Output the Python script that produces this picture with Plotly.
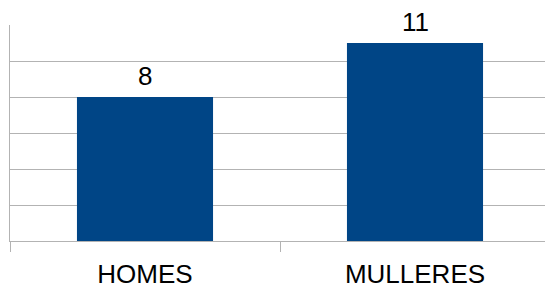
import plotly.graph_objects as go

categories = ["HOMES", "MULLERES"]
values = [8, 11]
bar_color = "#004586"
grid_color = "#b3b3b3"

fig = go.Figure(go.Bar(
    x=categories, y=values,
    marker=dict(color=bar_color, line=dict(width=0)),
    width=0.504, hoverinfo="skip",
))

for c, v in zip(categories, values):
    fig.add_annotation(
        x=c, y=v, text=str(v), showarrow=False,
        yanchor="bottom", yshift=4,
        font=dict(family="Liberation Sans", size=26, color="#000000"),
    )

fig.update_layout(
    width=545, height=286,
    margin=dict(l=10, r=0, t=25, b=45, autoexpand=False),
    paper_bgcolor="white", plot_bgcolor="white",
    showlegend=False,
    font=dict(family="Liberation Sans", size=26, color="#000000"),
    xaxis=dict(
        range=[-0.5, -0.5 + 535 / 270], showgrid=False, automargin=False,
        showline=True, linecolor=grid_color, linewidth=1,
        ticks="outside", ticklen=10, tickcolor=grid_color, tickwidth=1,
        tickson="boundaries", tickfont=dict(size=26), ticklabelstandoff=10,
    ),
    yaxis=dict(
        range=[0, 12], dtick=2, showgrid=True, gridcolor=grid_color, gridwidth=1,
        showline=True, linecolor=grid_color, linewidth=1, automargin=False,
        showticklabels=False, zeroline=False, ticks="",
    ),
)

fig.write_html("out.html", config={"displayModeBar": False},
               post_script="document.body.style.margin='0';")
